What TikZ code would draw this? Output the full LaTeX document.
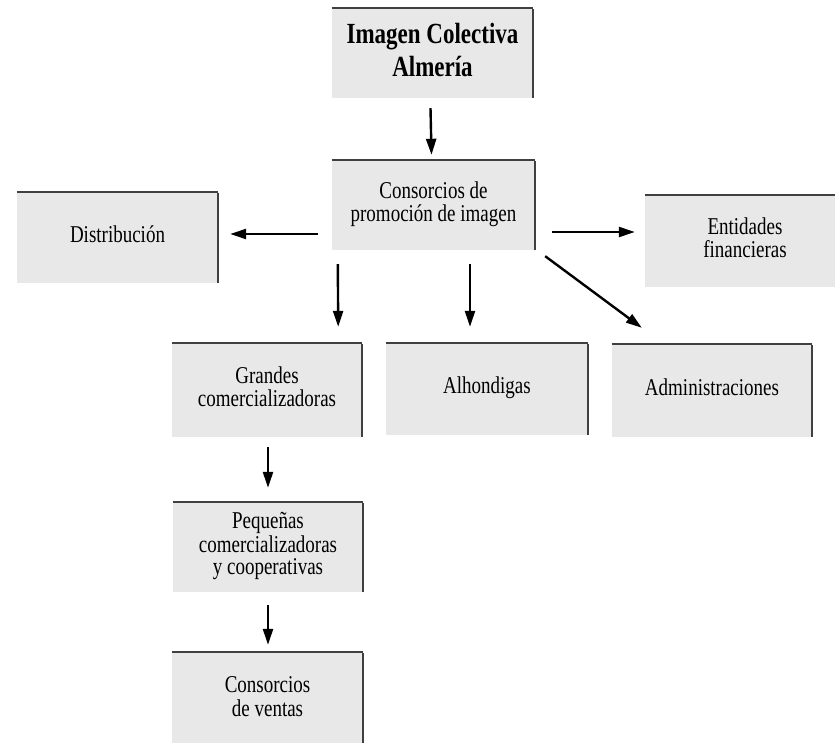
\documentclass[tikz,border=0pt]{standalone}
\usepackage{fontspec}
\usepackage{graphicx}
\setmainfont{Liberation Serif}
\usetikzlibrary{arrows.meta}
\definecolor{boxfill}{gray}{0.91}
\definecolor{edge}{gray}{0.25}
\newcommand{\tallt}[1]{\scalebox{1}[1.27]{\begin{tabular}{@{}c@{}}#1\end{tabular}}}
\tikzset{
  box/.style={fill=boxfill, inner sep=0pt, align=center, text=black,
    font=\fontsize{19}{18}\selectfont},
  titlebox/.style={box, font=\fontsize{23}{26}\selectfont\bfseries},
  arr/.style={line width=2.4pt, -{Triangle[length=16pt,width=10pt]}},
  edgeline/.style={draw=edge, line width=2pt},
  rightline/.style={draw=edge, line width=1.6pt}
}
\newcommand{\boxedges}[1]{%
  \draw[edgeline] (#1.north west) -- (#1.north east);
  \draw[rightline] ([yshift=-1pt]#1.north east) -- (#1.south east);}
\begin{document}
\begin{tikzpicture}[x=1pt,y=-1pt]
\useasboundingbox (0,0) rectangle (835,743);
\fill[white] (0,0) rectangle (835,743);

\node[titlebox, minimum width=201pt, minimum height=90pt] (img) at (432.5,53) {\tallt{Imagen Colectiva\\Almería}};
\node[box, minimum width=203pt, minimum height=90pt] (cons) at (433.5,205) {\tallt{Consorcios de\\promoción de imagen}};
\node[box, minimum width=201pt, minimum height=91pt] (dist) at (117.5,237.5) {\tallt{Distribución}};
\node[box, minimum width=200pt, minimum height=92pt] (ent) at (745,241) {\raisebox{3pt}{\tallt{Entidades\\financieras}}};
\node[box, minimum width=190pt, minimum height=94pt] (gran) at (267,390) {\raisebox{3pt}{\tallt{Grandes\\comercializadoras}}};
\node[box, minimum width=202pt, minimum height=92pt] (alh) at (487,389) {\tallt{Alhondigas}};
\node[box, minimum width=200pt, minimum height=93pt] (adm) at (712,390.5) {\tallt{Administraciones}};
\node[box, minimum width=190pt, minimum height=90pt] (peq) at (268,547) {\tallt{Pequeñas\\comercializadoras\\y cooperativas}};
\node[box, minimum width=191pt, minimum height=96pt] (cven) at (267.5,700) {\tallt{Consorcios\\de ventas}};

\boxedges{img}
\boxedges{cons}
\boxedges{dist}
\draw[edgeline] (ent.north west) -- (ent.north east);
\boxedges{gran}
\boxedges{alh}
\boxedges{adm}
\boxedges{peq}
\boxedges{cven}

\draw[arr] ([shift={(-2,10)}]img.south) -- ([shift={(-2,-5)}]cons.north);
\draw[arr] ([shift={(-14,29)}]cons.west) -- ([shift={(12,-3.5)}]dist.east);
\draw[arr] ([shift={(17,27)}]cons.east) -- ([shift={(-10,-9)}]ent.west);
\draw[arr] ([shift={(10,6)}]cons.south east) -- ([shift={(30,-16)}]adm.north west);
\draw[arr] ([shift={(6,14)}]cons.south west) -- ([shift={(-24,-16)}]gran.north east);
\draw[arr] ([shift={(36.5,14)}]cons.south) -- ([shift={(-17,-16)}]alh.north);
\draw[arr] ([shift={(1,10)}]gran.south) -- ([shift={(0,-14)}]peq.north);
\draw[arr] ([shift={(0,13)}]peq.south) -- ([shift={(0.5,-7)}]cven.north);
\end{tikzpicture}
\end{document}
